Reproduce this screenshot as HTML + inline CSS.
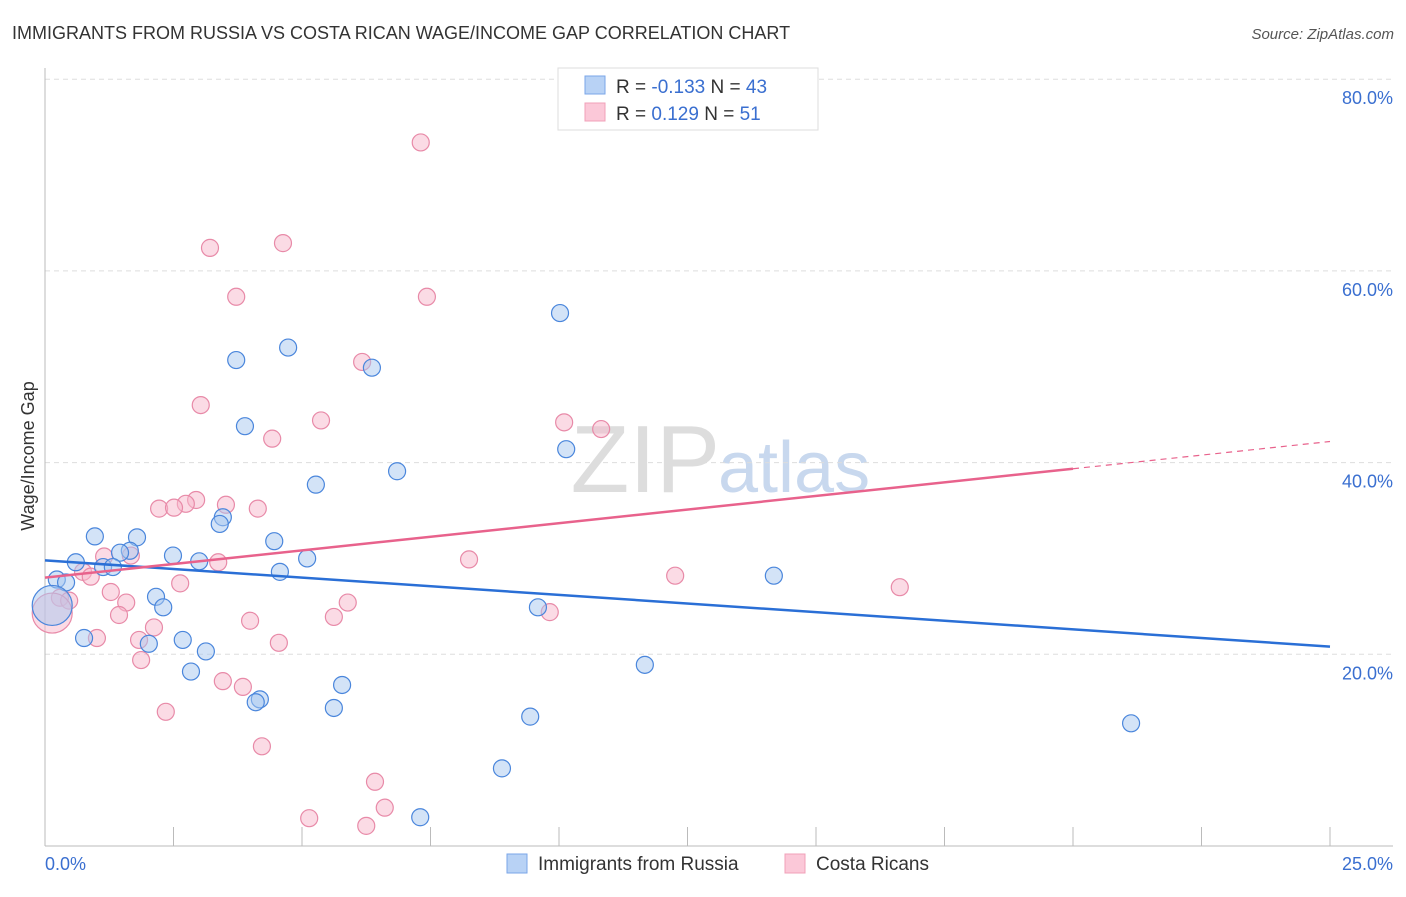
<!DOCTYPE html>
<html><head><meta charset="utf-8"><style>
body{margin:0;background:#fff;font-family:"Liberation Sans",sans-serif;}
svg text{font-family:"Liberation Sans",sans-serif;}
</style></head><body>
<svg id="chart" width="1406" height="892" xmlns="http://www.w3.org/2000/svg">
<text x="12" y="39" font-size="18" fill="#333">IMMIGRANTS FROM RUSSIA VS COSTA RICAN WAGE/INCOME GAP CORRELATION CHART</text>
<text x="1394" y="39" font-size="15" fill="#555" font-style="italic" text-anchor="end">Source: ZipAtlas.com</text>
<text x="720" y="492" font-size="96" fill="#ddd" text-anchor="end" font-family="Liberation Serif">ZIP</text>
<text x="718" y="492" font-size="72" fill="#c8d8ee">atlas</text>
<g id="grid"></g>
<g id="axes"></g>
<g id="pts"></g>
<g id="trends"></g>
<text transform="translate(34,456) rotate(-90)" font-size="18" fill="#333" text-anchor="middle">Wage/Income Gap</text>
<text x="45" y="870" font-size="18" fill="#3a6fd0">0.0%</text>
<text x="1393" y="870" font-size="18" fill="#3a6fd0" text-anchor="end">25.0%</text>
<g>
<rect x="558" y="68" width="260" height="62" fill="#fff" stroke="#ddd"/>
<rect x="585" y="76" width="20" height="18" fill="#b8d2f5" stroke="#7aa6e8"/>
<rect x="585" y="103" width="20" height="18" fill="#fbc8d8" stroke="#f0a0b8"/>
<text x="616" y="93" font-size="19" fill="#333">R = <tspan fill="#3a6fd0">-0.133</tspan>   N = <tspan fill="#3a6fd0">43</tspan></text>
<text x="616" y="120" font-size="19" fill="#333">R =   <tspan fill="#3a6fd0">0.129</tspan>   N =  <tspan fill="#3a6fd0">51</tspan></text>
</g>
<g>
<rect x="507" y="854" width="20" height="19" fill="#b8d2f5" stroke="#7aa6e8"/>
<text x="538" y="870" font-size="19" fill="#333">Immigrants from Russia</text>
<rect x="785" y="854" width="20" height="19" fill="#fbc8d8" stroke="#f0a0b8"/>
<text x="816" y="870" font-size="19" fill="#333">Costa Ricans</text>
</g>
</svg>
<script>
const yTicks=[20,40,60,80];
const yTickLabels=["20.0%","40.0%","60.0%","80.0%"];
const xTicks=[2.5,5,7.5,10,12.5,15,17.5,20,22.5,25];
const blueX=[10.02,4.73,3.72,6.36,3.89,10.14,6.85,5.27,0.97,1.79,3.46,3.40,4.46,1.65,1.46,2.49,0.60,3.0,5.10,1.13,1.32,4.57,14.18,0.23,0.41,2.16,2.30,9.59,0.76,2.68,2.02,3.13,11.67,2.84,5.78,4.18,4.10,5.62,9.44,21.13,8.89,7.30,0.14];
const blueY=[55.6,52.0,50.7,49.9,43.8,41.4,39.1,37.7,32.3,32.2,34.3,33.6,31.8,30.8,30.6,30.3,29.6,29.7,30.0,29.1,29.1,28.6,28.2,27.8,27.5,26.0,24.9,24.9,21.7,21.5,21.1,20.3,18.9,18.2,16.8,15.3,15.0,14.4,13.5,12.8,8.1,3.0,25.1];
const pinkX=[7.31,4.63,3.21,3.72,7.43,6.17,3.03,5.37,10.10,10.82,4.42,2.94,2.74,3.52,2.22,2.51,4.14,1.15,1.67,3.37,8.25,0.74,0.89,12.26,2.63,16.63,1.28,0.29,0.47,1.58,5.89,9.82,1.44,5.62,3.99,2.12,1.01,1.83,4.55,1.87,3.46,3.85,2.35,4.22,6.42,6.61,5.14,6.25,0.14];
const pinkY=[73.4,62.9,62.4,57.3,57.3,50.5,46.0,44.4,44.2,43.5,42.5,36.1,35.7,35.6,35.2,35.3,35.2,30.2,30.3,29.6,29.9,28.6,28.1,28.2,27.4,27.0,26.5,25.9,25.6,25.4,25.4,24.4,24.1,23.9,23.5,22.8,21.7,21.5,21.2,19.4,17.2,16.6,14.0,10.4,6.7,4.0,2.9,2.1,24.3];
const blueTrend=[29.8,20.8];
const pinkTrend=[28.0,42.2];
const pinkSolidEnd=20;
const X=v=>45+v/25*1285, Y=v=>846-v/20*191.7;
const NS="http://www.w3.org/2000/svg";
function mk(t,a,p){const e=document.createElementNS(NS,t);for(const k in a)e.setAttribute(k,a[k]);p.appendChild(e);return e;}
const grid=document.getElementById('grid'),axes=document.getElementById('axes'),pts=document.getElementById('pts'),tr=document.getElementById('trends');
yTicks.forEach((v,i)=>{
 const l=mk('line',{x1:45,x2:1393,y1:Y(v),y2:Y(v),stroke:'#ddd','stroke-dasharray':'5,4'},grid);
 
 
 const t=mk('text',{x:1393,y:Y(v)+25,'font-size':18,fill:'#3a6fd0','text-anchor':'end'},grid);
 t.textContent=yTickLabels[i];
 
 
});
const xa=mk('line',{x1:45,x2:1393,y1:846,y2:846,stroke:'#bbb'},axes);


const ya=mk('line',{x1:45,x2:45,y1:68,y2:846,stroke:'#bbb'},axes);


xTicks.forEach(v=>{
 const l=mk('line',{x1:X(v),x2:X(v),y1:827,y2:846,stroke:'#bbb'},axes);
 
 
});
function dots(xs,ys,fill,stroke,name){
 xs.forEach((x,i)=>{
  const big=(i===xs.length-1);
  const c=mk('circle',{cx:X(x),cy:Y(ys[i]),r:big?20:8.5,fill:fill,'fill-opacity':0.5,stroke:stroke,'stroke-width':1.2},pts);
  
  
 });
}
dots(pinkX,pinkY,'#f8b8cc','#e88aa8','costa-rican-point');
dots(blueX,blueY,'#a8c8f0','#4a86dc','russia-point');
const bl=mk('line',{x1:X(0),y1:Y(blueTrend[0]),x2:X(25),y2:Y(blueTrend[1]),stroke:'#2a6fd6','stroke-width':2.5},tr);


const pm=pinkTrend[0]+(pinkTrend[1]-pinkTrend[0])*pinkSolidEnd/25;
const pl=mk('line',{x1:X(0),y1:Y(pinkTrend[0]),x2:X(pinkSolidEnd),y2:Y(pm),stroke:'#e8628c','stroke-width':2.5},tr);


const pd=mk('line',{x1:X(pinkSolidEnd),y1:Y(pm),x2:X(25),y2:Y(pinkTrend[1]),stroke:'#e8628c','stroke-width':1.2,'stroke-dasharray':'6,5'},tr);


</script>
</body></html>
